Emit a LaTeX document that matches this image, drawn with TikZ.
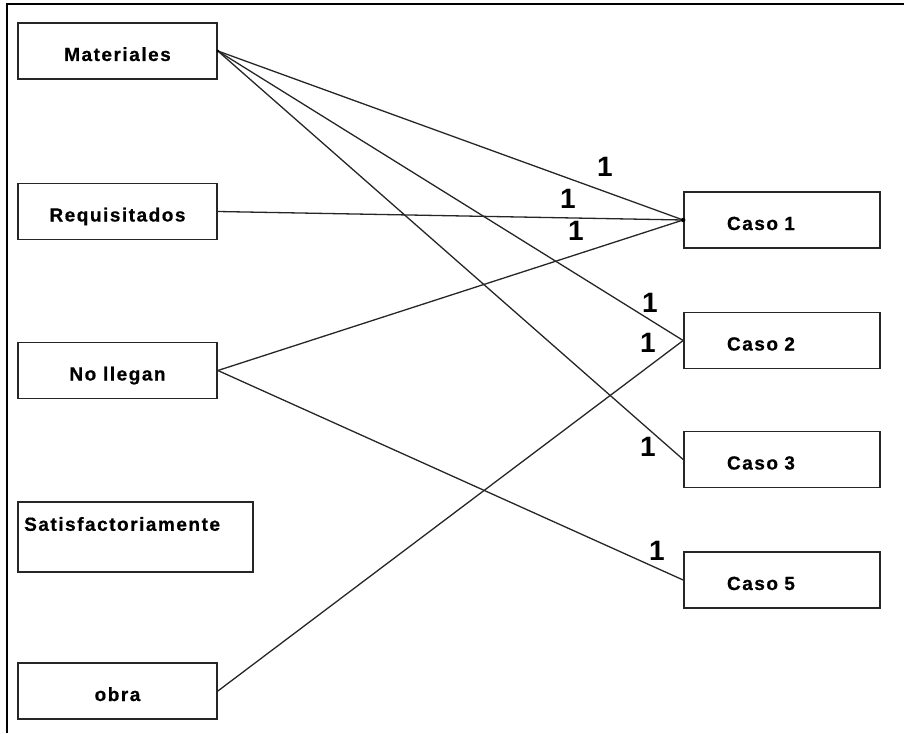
\documentclass[tikz,border=0pt]{standalone}
\usepackage{fontspec}
\setmainfont{Liberation Sans}
\newfontfamily\boxfont[LetterSpace=8,FakeBold=0.6]{Liberation Sans}
\begin{document}
\begin{tikzpicture}[x=1pt,y=-1pt,
  box/.style={draw=black!85, line width=1.7pt, minimum width=199pt, minimum height=56pt, inner sep=0pt, text height=20pt, text depth=0pt, font=\boxfont\fontsize{19}{21}\selectfont\bfseries},
  casebox/.style={box, minimum width=196pt, text width=196pt, align=left, inner xsep=0pt},
  conn/.style={line width=1.3pt, draw=black!85},
  one/.style={font=\fontsize{28}{30}\selectfont\bfseries, inner sep=0pt}]
\useasboundingbox (0,0) rectangle (904,733);
\draw[line width=2pt] (7,733) -- (7,4) -- (904,4);
% left boxes
\node[box] (mat) at (117.5,51) {Materiales};
\node[box] (req) at (117.5,211.5) {Requisitados};
\node[box] (nol) at (117.5,370.5) {No llegan};
\node[box, minimum width=235pt, minimum height=70pt] (sat) at (135.5,537) {};
\node[font=\boxfont\fontsize{19}{21}\selectfont\bfseries, anchor=west, inner sep=0pt] (satt) at (24,524) {Satisfactoriamente};
\node[box] (obr) at (117.5,691) {obra};
% right boxes
\node[casebox] (c1) at (782,220) {\hspace*{43pt}Caso 1};
\node[casebox] (c2) at (782,340.5) {\hspace*{43pt}Caso 2};
\node[casebox] (c3) at (782,459.5) {\hspace*{43pt}Caso 3};
\node[casebox] (c5) at (782,580) {\hspace*{43pt}Caso 5};
% connectors
\draw[conn] (mat.east) -- (c1.west);
\draw[conn] (mat.east) -- (c2.west);
\draw[conn] (mat.east) -- (c3.west);
\draw[conn] (req.east) -- (c1.west);
\draw[conn] (nol.east) -- (c1.west);
\draw[conn] (nol.east) -- (c5.west);
\draw[conn] (obr.east) -- (c2.west);
\fill (c1.west) circle (2.2pt);
\fill (mat.east) circle (1.5pt);
% labels
\node[one] (l1) at (605,167) {1};
\node[one] (l2) at (568,199) {1};
\node[one] (l3) at (576,231) {1};
\node[one] (l4) at (650,303) {1};
\node[one] (l5) at (648,343) {1};
\node[one] (l6) at (648,447) {1};
\node[one] (l7) at (657,551) {1};
\end{tikzpicture}
\end{document}
